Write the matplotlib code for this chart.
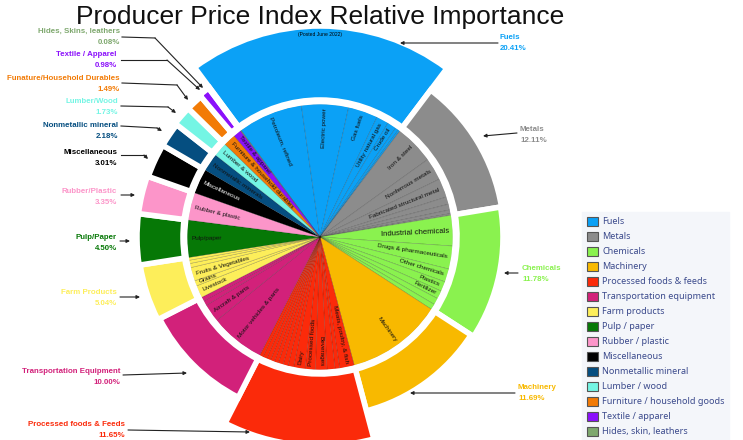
import numpy as np
import matplotlib.pyplot as plt
from matplotlib.patches import Patch, Circle

plt.rcParams['font.family'] = ['Liberation Sans', 'DejaVu Sans']

# ---- data -------------------------------------------------------------
groups = ['Fuels', 'Metals', 'Chemicals', 'Machinery', 'Processed foods & feeds',
          'Transportation equipment', 'Farm products', 'Pulp / paper',
          'Rubber / plastic', 'Miscellaneous', 'Nonmetallic mineral',
          'Lumber / wood', 'Furniture / household goods', 'Textile / apparel',
          'Hides, skin, leathers']
shares = [20.41, 12.11, 11.78, 11.69, 11.65, 10.00, 5.04, 4.50, 3.35, 3.01,
          2.18, 1.73, 1.49, 0.98, 0.08]
colors = ['#0ba1f6', '#8c8c8c', '#8af24f', '#f8b900', '#fb2a0a', '#d2217a',
          '#fdee5a', '#067806', '#fc95c9', '#000000', '#054e80', '#74f5e4',
          '#f27b06', '#8b10fb', '#7ea86e']
callout_names = ['Fuels', 'Metals', 'Chemicals', 'Machinery', 'Processed foods & Feeds',
                 'Transportation Equipment', 'Farm Products', 'Pulp/Paper',
                 'Rubber/Plastic', 'Miscellaneous', 'Nonmetallic mineral',
                 'Lumber/Wood', 'Funature/Household Durables', 'Textile / Apparel',
                 'Hides, Skins, leathers']

# sub-industries (inner pie), clockwise inside each group
fuels_sub = ['Petroleum, refined', 'Electric power', 'Gas fuels', 'Utility natural gas', 'Crude oil', '', '']
fuels_val = [7.9, 5.7, 3.6, 1.5, 1.1, 0.4, 0.21]
metals_sub = ['Iron & steel', 'Nonferrous metals', 'Fabricated structural metal', '', '', '', '']
metals_val = [4.8, 2.75, 2.3, 0.9, 0.7, 0.45, 0.21]
chem_sub = ['Industrial chemicals', 'Drugs & pharmaceuticals', 'Other chemicals', 'Plastics', 'Fertilizer', '', '']
chem_val = [3.7, 2.8, 1.6, 1.2, 1.0, 0.8, 0.68]
mach_sub = ['Machinery']
mach_val = [11.69]
food_sub = ['Meats, poultry, & fish', '', '', 'Beverages', 'Processed foods', 'Dairy',
            '', '', '', '', '', '', '', '']
food_val = [1.78, 0.56, 0.97, 1.39, 1.25, 1.39, 0.7, 0.6, 0.6, 0.5, 0.5, 0.5, 0.5, 0.41]
trans_sub = ['Motor vehicles & parts', 'Aircraft & parts', '', '']
trans_val = [6.7, 2.2, 0.6, 0.5]
farm_sub = ['Livestock', 'Grains', 'Fruits & Vegetables', '', '', '']
farm_val = [1.5, 0.65, 1.65, 0.5, 0.4, 0.34]
pulp_sub = ['Pulp/paper']
pulp_val = [4.5]
rubber_sub = ['Rubber & plastic']
rubber_val = [3.35]
misc_sub = ['Miscellaneous']
misc_val = [3.01]
nonmet_sub = ['Nonmetallic minerals']
nonmet_val = [2.18]
lumber_sub = ['Lumber & wood']
lumber_val = [1.73]
furn_sub = ['Furniture & household durables']
furn_val = [1.49]
text_sub = ['Textile & apparel']
text_val = [0.98]
hides_sub = ['']
hides_val = [0.08]

sub_names = [fuels_sub, metals_sub, chem_sub, mach_sub, food_sub, trans_sub, farm_sub,
             pulp_sub, rubber_sub, misc_sub, nonmet_sub, lumber_sub, furn_sub,
             text_sub, hides_sub]
sub_vals = [fuels_val, metals_val, chem_val, mach_val, food_val, trans_val, farm_val,
            pulp_val, rubber_val, misc_val, nonmet_val, lumber_val, furn_val,
            text_val, hides_val]

# ---- layout (pixel coords, y measured from top) -----------------------
W, H = 743, 440
cx, cy = 320, 237
r_in = 133
ring_r0 = 137
outer_r = [211, 184, 183, 180, 209, 180, 182, 183, 183, 182, 182, 184, 184, 186, 186]
start = 126.5

# text anchor (x, y), and arrow path: start, optional corner, tip
callouts = [
    ((500, 43), 'left', [(498, 43), (400, 43)]),
    ((520, 135), 'left', [(517, 133), (483, 136)]),
    ((522, 274), 'left', [(518, 273), (504, 273)]),
    ((518, 393), 'left', [(515, 393), (410, 393)]),
    ((125, 430), 'right', [(128, 430), (250, 432)]),
    ((120, 377), 'right', [(123, 375), (187, 373)]),
    ((117, 298), 'right', [(120, 297), (140, 297)]),
    ((117, 243), 'right', [(120, 241), (130, 241)]),
    ((117, 197), 'right', [(121, 195), (135, 195)]),
    ((117, 158), 'right', [(121, 155), (144, 155), (148, 159)]),
    ((118, 131), 'right', [(121, 126), (157, 128), (162, 131)]),
    ((118, 107), 'right', [(121, 106), (168, 107), (176, 113)]),
    ((120, 84), 'right', [(122, 83), (177, 85), (188, 100)]),
    ((117, 60), 'right', [(121, 60), (167, 60), (200, 90)]),
    ((120, 37), 'right', [(122, 37), (155, 38), (203, 88)]),
]

def Y(y):
    return H - y

fig = plt.figure(figsize=(W / 100, H / 100), dpi=100)
ax = fig.add_axes([0, 0, 1, 1])

# outer ring
wedges, _ = ax.pie(shares, colors=colors, startangle=start, counterclock=False,
                   radius=outer_r[0], center=(cx, Y(cy)),
                   wedgeprops=dict(width=outer_r[0] - ring_r0, edgecolor='white', linewidth=4))
for w, r in zip(wedges, outer_r):
    w.set_radius(r)
    w.set_width(r - ring_r0)

# inner pie of sub-industries
flat_vals, flat_names, flat_cols = [], [], []
for names, vals, c in zip(sub_names, sub_vals, colors):
    flat_vals += vals
    flat_names += names
    flat_cols += [c] * len(vals)
inner, _ = ax.pie(flat_vals, colors=flat_cols, startangle=start, counterclock=False,
                  radius=r_in, center=(cx, Y(cy)),
                  wedgeprops=dict(edgecolor=(0, 0, 0, 0.25), linewidth=0.4))
ax.add_patch(Circle((cx, Y(cy)), r_in + 1.2, facecolor='none', edgecolor='white', lw=2.2))

for w, name in zip(inner, flat_names):
    if not name:
        continue
    mid = (w.theta1 + w.theta2) / 2
    mid = (mid + 180) % 360 - 180
    rad = np.deg2rad(mid)
    x = cx + (r_in - 4) * np.cos(rad)
    y = Y(cy) + (r_in - 4) * np.sin(rad)
    if -90 <= mid <= 90:
        rot, ha = mid, 'right'
    else:
        rot, ha = mid - 180 if mid > 0 else mid + 180, 'left'
    fs = 5.6 if name == 'Industrial chemicals' else 4.6
    col = 'white' if name == 'Miscellaneous' else '#111111'
    ax.text(x, y, name, rotation=rot, rotation_mode='anchor', ha=ha, va='center',
            fontsize=fs, color=col)

# callouts
for (pos, ha, path), name, pct, c in zip(callouts, callout_names, shares, colors):
    ax.text(pos[0], Y(pos[1]), f'{name}\n{pct:.2f}%', ha=ha, va='center',
            fontsize=5.7, fontweight='bold', color=c, linespacing=1.7)
    pts = [(px, Y(py)) for px, py in path]
    if len(pts) == 3:
        ax.plot([pts[0][0], pts[1][0]], [pts[0][1], pts[1][1]], color='#222222', lw=0.8)
        a, b = pts[1], pts[2]
    else:
        a, b = pts[0], pts[1]
    ax.annotate('', xy=b, xytext=a,
                arrowprops=dict(arrowstyle='-|>', color='#222222', lw=0.8,
                                mutation_scale=5, shrinkA=0, shrinkB=0))

ax.text(320, Y(17), 'Producer Price Index Relative Importance', ha='center', va='center',
        fontsize=19, color='#111111')
ax.text(320, Y(34), '(Posted June 2022)', ha='center', va='center', fontsize=3.6)

handles = [Patch(facecolor=c, edgecolor='#555555', lw=0.8) for c in colors]
leg = fig.legend(handles, groups, loc='upper left', bbox_to_anchor=(582 / W, 1 - 212 / H),
                 labelcolor='#3b4a8c', handlelength=1.3, handleheight=1.3,
                 handletextpad=0.45, labelspacing=0.56, borderpad=0.5, borderaxespad=0,
                 frameon=True, fancybox=False, facecolor='#f4f6fa', edgecolor='#f4f6fa',
                 prop={'family': ['Noto Sans', 'DejaVu Sans'], 'size': 6.5})
leg.get_frame().set_alpha(1)

ax.set_xlim(0, W)
ax.set_ylim(0, H)
ax.set_aspect('equal')
ax.axis('off')

fig.savefig('out.png', dpi=100)
